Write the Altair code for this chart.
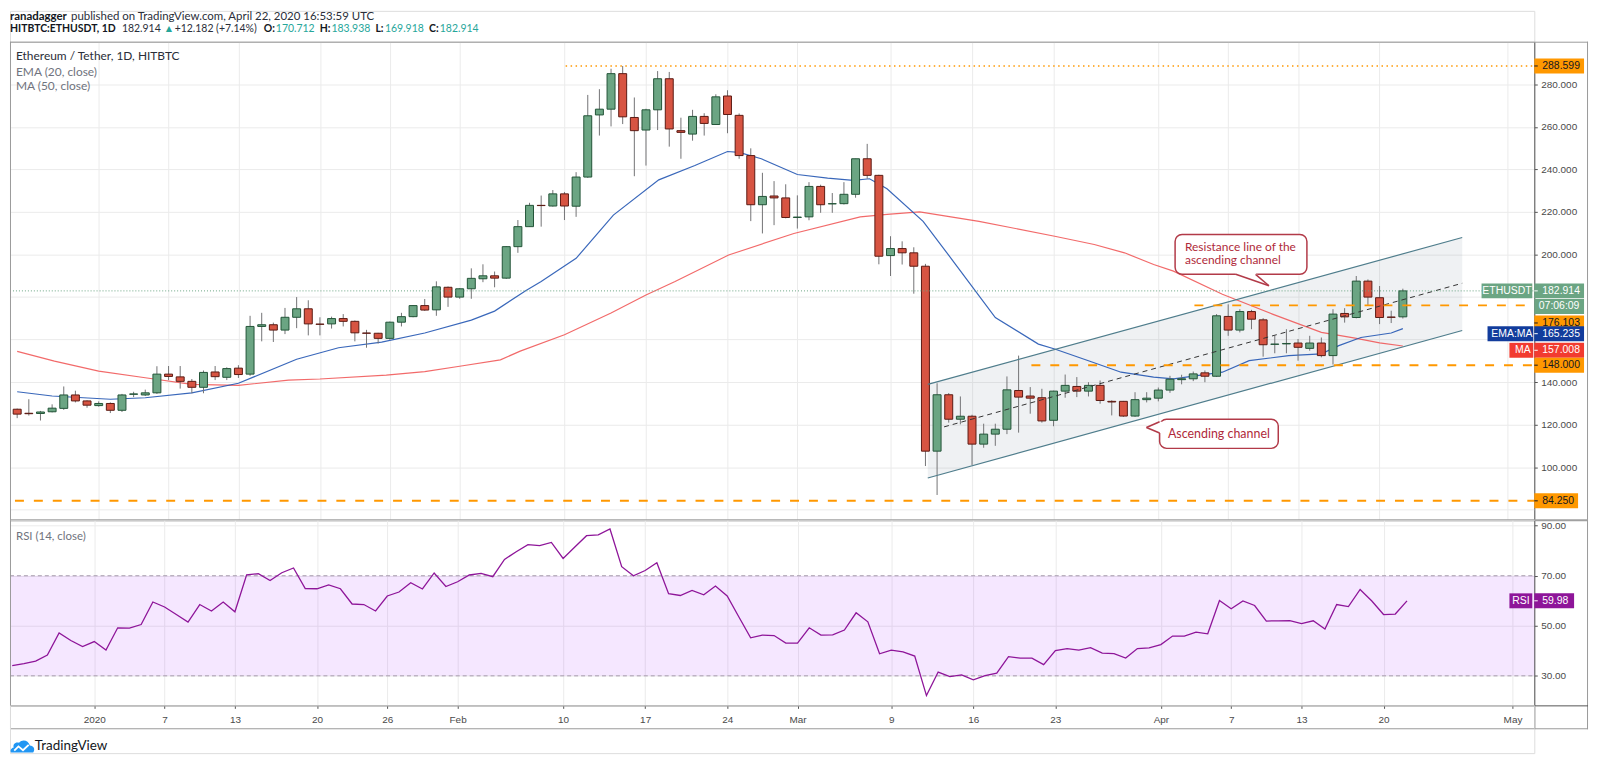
import altair as alt
import pandas as pd

# ---------------- data ----------------
dates = pd.date_range("2019-12-25", "2020-04-22", freq="D")
day = [(t - pd.Timestamp("2020-01-01")).days for t in dates]

opens = [127.3,125.4,125.3,126.1,127.7,134.0,131.2,129.0,130.0,126.8,
         134.3,134.0,135.0,143.8,142.5,140.4,137.6,144.8,142.3,146.6,
         143.8,166.2,167.0,164.5,170.5,174.5,167.3,167.4,169.9,168.6,
         163.1,163.0,160.6,168.2,170.8,176.0,174.0,184.6,180.0,183.9,
         188.6,190.0,188.9,203.7,213.1,223.1,222.8,228.5,222.7,236.4,
         265.6,268.3,285.0,264.4,258.5,268.0,282.6,258.2,256.6,264.9,
         261.1,274.5,265.4,246.5,223.4,227.5,226.6,217.4,217.7,232.0,
         223.8,223.9,228.3,245.0,237.2,199.5,202.8,200.8,194.5,107.6,
         134.1,122.6,124.0,110.9,115.6,117.9,136.1,133.5,132.7,122.1,
         135.8,138.0,135.8,138.5,131.0,131.0,124.1,131.8,132.5,136.3,
         141.2,141.6,144.4,142.8,170.9,164.5,173.2,169.3,157.8,158.0,
         158.4,155.9,158.4,152.5,172.3,170.4,187.5,179.7,170.6,170.712]
highs = [127.6,132.0,126.5,129.6,138.0,136.0,131.5,131.0,130.5,134.5,
         135.5,136.5,147.5,147.6,147.6,141.5,145.5,147.6,147.0,148.0,
         171.2,172.6,168.0,174.9,180.0,178.5,170.5,170.8,172.0,169.0,
         164.6,163.2,168.5,172.6,176.2,179.1,187.4,185.0,184.2,193.5,
         195.4,192.0,204.0,216.2,224.3,227.7,230.3,229.4,238.7,275.0,
         277.7,287.3,288.6,273.8,268.5,286.2,285.8,264.3,268.0,266.4,
         275.3,277.2,266.3,249.9,238.4,234.5,233.0,227.8,234.0,232.8,
         228.9,234.0,245.0,252.0,237.5,208.6,206.2,203.4,195.6,139.5,
         134.9,133.3,124.7,120.5,120.5,142.7,152.5,137.7,136.9,136.0,
         143.6,142.4,140.0,140.8,131.5,131.2,135.3,135.3,137.5,143.0,
         143.5,145.0,145.5,172.0,176.6,174.3,174.0,170.1,161.8,164.9,
         160.3,161.8,161.0,174.3,174.8,189.9,188.3,185.2,173.6,183.938]
lows = [123.1,124.3,122.0,125.8,127.0,130.5,128.0,128.5,125.5,126.0,
        133.0,133.5,134.5,141.0,137.0,134.8,134.8,141.0,141.0,142.0,
        143.0,159.2,158.9,162.6,165.4,162.0,162.0,165.2,166.2,159.2,
        156.2,158.2,160.0,166.2,170.5,173.5,171.2,175.4,179.2,179.2,
        187.0,184.6,188.5,200.8,213.0,213.1,222.5,216.2,217.7,236.0,
        255.9,260.2,261.3,236.8,241.8,258.5,250.7,245.0,253.5,255.9,
        261.0,257.0,245.0,215.7,209.9,213.8,217.0,212.2,216.1,219.6,
        219.6,223.5,226.7,235.6,195.4,189.9,195.3,181.6,100.6,87.0,
        121.0,120.2,101.1,109.2,110.1,115.6,116.3,125.2,121.0,119.3,
        132.7,133.0,133.3,129.9,124.4,123.7,123.7,130.5,131.0,135.0,
        139.0,140.5,140.0,142.5,161.8,163.4,164.9,152.0,153.6,153.6,
        150.1,154.8,151.7,148.3,168.0,170.0,175.9,167.3,167.8,169.918]
closes = [125.0,125.2,126.0,127.8,134.0,131.2,129.2,130.0,126.8,134.0,
          134.5,135.0,143.8,142.7,140.4,137.6,144.6,142.6,146.4,143.6,
          166.2,167.0,164.5,170.5,174.5,167.4,167.2,169.9,168.6,163.2,
          163.0,160.6,168.2,170.8,176.0,173.9,184.8,180.0,183.9,188.8,
          190.0,188.9,203.7,213.1,223.1,223.0,228.5,222.8,236.4,265.2,
          268.3,285.0,264.7,258.2,268.0,282.6,259.0,257.4,264.9,261.6,
          274.1,265.8,246.5,223.4,227.3,226.6,217.4,217.6,232.0,223.4,
          223.9,228.3,245.0,237.2,199.2,202.8,200.8,194.5,107.6,134.1,
          122.6,124.0,110.9,115.6,117.9,136.4,133.0,132.5,121.8,135.8,
          138.5,135.8,138.5,131.4,130.7,124.1,131.8,132.5,136.3,141.4,
          141.6,143.9,142.8,171.2,164.5,173.2,169.6,157.6,157.9,158.2,
          156.4,158.4,152.5,172.0,170.7,187.5,180.0,170.4,170.5,182.914]
rsi_vals = [34.1,34.9,35.9,38.3,47.1,44.1,41.7,43.7,40.3,49.2,
            49.1,50.5,59.5,57.5,54.5,51.5,58.5,55.9,59.5,55.6,
            70.4,70.8,68.1,71.2,73.1,64.9,64.8,66.3,64.8,58.7,
            58.5,55.9,61.9,63.5,67.2,64.7,71.1,65.7,67.6,70.3,
            70.9,69.6,76.5,79.6,82.4,82.0,83.3,76.9,81.5,86.0,
            86.3,88.7,73.6,70.0,72.1,75.2,62.8,62.1,64.1,62.4,
            65.9,61.9,53.5,45.2,46.3,46.1,43.1,43.1,49.2,46.3,
            46.4,48.3,55.2,51.6,38.8,40.3,39.6,37.9,22.1,31.5,
            29.7,30.4,28.4,30.1,31.1,37.7,37.1,37.1,34.5,40.1,
            40.9,40.3,41.3,39.1,38.9,37.1,40.9,41.2,42.5,45.9,
            45.9,47.5,46.8,60.1,56.8,59.9,58.1,51.9,52.0,52.1,
            50.9,52.0,48.7,58.5,57.7,64.5,59.9,54.5,54.7,59.98]

ema_days = [-7,-4,1,4,8,12,17,20.6,24.3,28,32,34,36.7,38,40,41,44.2,48.1,51.2,54,55,
            56.9,60,62.6,64.8,66.2,67.7,70.8,73.6,77,80.7,82.1,85,87.8,90.6,92.3,
            96.5,98.8,102.2,105,106.5,108.4,111,112]
ema_vals = [135.5,133.5,132.0,132.7,135.0,139.5,150.8,156.2,158.8,163.1,169.2,173.4,183.1,
            187.3,194.6,198.2,218.5,235.1,241.8,248.4,248.0,245.0,237.6,235.9,234.8,235.6,
            230.9,215.6,195.3,170.4,157.9,155.6,150.1,144.7,142.4,141.6,144.7,150.1,152.5,
            153.3,157.2,161.0,163.1,165.2]
ma_days = [-7,-3.8,0,4,8,12,16.3,19,24.7,28,31,34.5,36.2,40,44,47,49.5,54.1,59.7,65.4,
           67.7,70.5,75.6,82.1,85.5,88.1,90.6,92.3,96.5,100.8,105,107.9,110,112]
ma_vals = [154.5,149.9,145.2,142.1,139.0,138.5,141.0,141.5,143.3,145.0,147.5,150.5,154.6,
           162.3,172.5,181.0,187.3,199.8,209.9,217.7,218.9,220.0,215.6,208.6,204.7,200.8,
           195.3,192.2,181.3,172.0,163.4,160.7,158.5,157.0]

tick_days = [0, 6, 12, 19, 25, 31, 40, 47, 54, 60, 68, 75, 82, 91, 97, 103, 110, 121]
tick_labels = ["2020", "7", "13", "20", "26", "Feb", "10", "17", "24", "Mar",
               "9", "16", "23", "Apr", "7", "13", "20", "May"]
price_ticks = [100, 120, 140, 200, 220, 240, 260, 280]   # labels visible on the price scale
hidden_grid = [80, 160, 180]                              # grid lines whose labels are covered
rsi_ticks = [30, 50, 70, 90]

# drawings
chan_days = [71.2, 117.1]
chan_low = [95.0, 164.3]
chan_high = [138.95, 208.0]
mid_days = [72.6, 117.1]
mid_vals = [119.0, 186.5]
level_vals = [288.599, 176.103, 148.0, 84.25]
level_start = [40.1, 94.1, 80.1, -7.19]
level_dash = ["dot", "dash", "dash", "dash"]
last_close = 182.914

assert len(opens) == len(highs) == len(lows) == len(closes) == len(rsi_vals) == len(day) == 120

# ---------------- styling ----------------
W, PH, RH = 1532, 481, 186
XD = [-7.19, 122.86]
GREEN, GREEN_B = "#6ba583", "#225437"
RED, RED_B = "#d75442", "#5b1a13"
WICK = "#737375"
ORANGE = "#ff9800"
NAVY = "#123c9c"
MARED = "#f23b30"
PURPLE = "#8e1599"
GRID = "#ebebeb"
FRAME = "#9a9a9a"
AXC = "#555555"
LBL = "#4a4a4a"
TXT = "#131722"
CALL = "#b23a48"
NUMFONT = "Liberation Sans"

xs = alt.Scale(domain=XD, nice=False, zero=False)
ys = alt.Scale(domain=[75.1, 300], nice=False, zero=False)
rs = alt.Scale(domain=[18.2, 92.15], nice=False, zero=False)

px_axis = alt.Axis(values=tick_days, grid=True, gridColor=GRID, labels=False, ticks=False,
                   domain=False, title=None)
py_axis = alt.Axis(orient="right", values=price_ticks, format=".3f", grid=True, gridColor=GRID,
                   title=None, labelFont=NUMFONT, labelFontSize=10, labelColor=LBL,
                   tickColor=AXC, tickSize=3, labelPadding=3.5, domainColor=AXC,
                   labelOverlap=False)
lab_expr = " : ".join(f"datum.value == {d} ? '{l}'" for d, l in zip(tick_days, tick_labels)) + " : ''"
rx_axis = alt.Axis(values=tick_days, labelExpr=lab_expr, grid=True, gridColor=GRID, title=None,
                   labelFont=NUMFONT, labelFontSize=10, labelColor=LBL, tickColor=AXC,
                   tickSize=3, labelPadding=6, domainColor=AXC, labelFlush=False,
                   labelOverlap=False)
ry_axis = alt.Axis(orient="right", values=rsi_ticks, format=".2f", grid=True, gridColor=GRID,
                   title=None, labelFont=NUMFONT, labelFontSize=10, labelColor=LBL,
                   tickColor=AXC, tickSize=3, labelPadding=3.5, domainColor=AXC,
                   labelOverlap=False)


def PX(f):
    return alt.X(f"{f}:Q", scale=xs, axis=px_axis)


def PY(f):
    return alt.Y(f"{f}:Q", scale=ys, axis=py_axis)


def RX(f):
    return alt.X(f"{f}:Q", scale=xs, axis=rx_axis)


def RY(f):
    return alt.Y(f"{f}:Q", scale=rs, axis=ry_axis)


one = pd.DataFrame({"k": [0]})

# ---------------- price panel ----------------
candles = pd.DataFrame({"d": day, "o": opens, "h": highs, "l": lows, "c": closes})
candles["dir"] = ["up" if c >= o else "down" for o, c in zip(opens, closes)]

layers = []
# grid lines whose labels are hidden behind the price boxes
layers.append(alt.Chart(pd.DataFrame({"p": hidden_grid})).mark_rule(color=GRID, strokeWidth=1)
              .encode(x=alt.value(0), x2=alt.value(W), y=PY("p")))
# channel fill
layers.append(alt.Chart(pd.DataFrame({"d": chan_days, "lo": chan_low, "hi": chan_high}))
              .mark_area(color="#7b8ea0", opacity=0.12)
              .encode(x=PX("d"), y=PY("lo"), y2=alt.Y2("hi")))
# EMA / MA
layers.append(alt.Chart(pd.DataFrame({"d": ma_days, "v": ma_vals}))
              .mark_line(color="#f05050", strokeWidth=1.2, opacity=0.85)
              .encode(x=PX("d"), y=PY("v")))
layers.append(alt.Chart(pd.DataFrame({"d": ema_days, "v": ema_vals}))
              .mark_line(color="#2457b3", strokeWidth=1.2, opacity=0.9)
              .encode(x=PX("d"), y=PY("v")))
# candles
layers.append(alt.Chart(candles).mark_rule(color=WICK, strokeWidth=1)
              .encode(x=PX("d"), y=PY("l"), y2=alt.Y2("h")))
layers.append(alt.Chart(candles).mark_bar(width=8, strokeWidth=1)
              .encode(x=PX("d"), y=PY("o"), y2=alt.Y2("c"),
                      fill=alt.Fill("dir:N", scale=alt.Scale(domain=["up", "down"], range=[GREEN, RED]), legend=None),
                      stroke=alt.Stroke("dir:N", scale=alt.Scale(domain=["up", "down"], range=[GREEN_B, RED_B]), legend=None)))
# channel lines
cl = pd.DataFrame({"d": chan_days + chan_days, "p": chan_low + chan_high, "g": ["lo", "lo", "hi", "hi"]})
layers.append(alt.Chart(cl).mark_line(color="#4f7d8c", strokeWidth=1.2)
              .encode(x=PX("d"), y=PY("p"), detail="g:N"))
layers.append(alt.Chart(pd.DataFrame({"d": mid_days, "p": mid_vals}))
              .mark_line(color="#333333", strokeWidth=1, strokeDash=[5, 4])
              .encode(x=PX("d"), y=PY("p")))
# horizontal levels
lv = pd.DataFrame({"p": level_vals, "s": level_start, "t": level_dash})
layers.append(alt.Chart(lv[lv.t == "dash"]).mark_rule(color=ORANGE, strokeWidth=2, strokeDash=[9, 10])
              .encode(x=PX("s"), x2=alt.value(W), y=PY("p")))
layers.append(alt.Chart(lv[lv.t == "dot"]).mark_rule(color=ORANGE, strokeWidth=1.6, strokeDash=[1.5, 3.5])
              .encode(x=PX("s"), x2=alt.value(W), y=PY("p")))
layers.append(alt.Chart(pd.DataFrame({"p": [last_close]})).mark_rule(color=GREEN, strokeWidth=1, strokeDash=[1, 2])
              .encode(x=alt.value(0), x2=alt.value(W), y=PY("p")))

# callout 1: resistance line
c1_box = pd.DataFrame({"x1": [92.44], "x2": [103.76], "y1": [190.7], "y2": [209.4]})
layers.append(alt.Chart(c1_box).mark_rect(fill="white", stroke=CALL, strokeWidth=1.5, cornerRadius=7)
              .encode(x=PX("x1"), x2=alt.X2("x2"), y=PY("y1"), y2=alt.Y2("y2")))
c1_ptr = pd.DataFrame({"d": [97.65, 99.35, 100.5], "lo": [190.7, 187.48, 185.3], "hi": [191.3, 191.3, 185.3]})
layers.append(alt.Chart(c1_ptr).mark_area(color="white", opacity=1)
              .encode(x=PX("d"), y=PY("lo"), y2=alt.Y2("hi")))
c1_edge = pd.DataFrame({"d": [97.65, 100.5, 99.35, 100.5], "p": [190.7, 185.3, 190.7, 185.3], "g": [1, 1, 2, 2]})
layers.append(alt.Chart(c1_edge).mark_line(color=CALL, strokeWidth=1.5)
              .encode(x=PX("d"), y=PY("p"), detail="g:N"))
c1_txt = pd.DataFrame({"d": [93.29, 93.29], "p": [203.4, 197.6],
                       "t": ["Resistance line of the", "ascending channel"]})
layers.append(alt.Chart(c1_txt).mark_text(align="left", baseline="middle", color="#b02a3a",
                                          font="Lato", fontSize=12)
              .encode(x=PX("d"), y=PY("p"), text="t:N"))
# callout 2: ascending channel
c2_box = pd.DataFrame({"x1": [91.11], "x2": [101.3], "y1": [108.9], "y2": [122.64]})
layers.append(alt.Chart(c2_box).mark_rect(fill="white", stroke=CALL, strokeWidth=1.5, cornerRadius=7)
              .encode(x=PX("x1"), x2=alt.X2("x2"), y=PY("y1"), y2=alt.Y2("y2")))
c2_ptr = pd.DataFrame({"d": [89.98, 91.11, 91.35], "lo": [118.7, 116.1, 116.1], "hi": [118.7, 121.4, 121.4]})
layers.append(alt.Chart(c2_ptr).mark_area(color="white", opacity=1)
              .encode(x=PX("d"), y=PY("lo"), y2=alt.Y2("hi")))
c2_edge = pd.DataFrame({"d": [91.11, 89.98, 91.11, 89.98], "p": [121.4, 118.7, 116.1, 118.7], "g": [1, 1, 2, 2]})
layers.append(alt.Chart(c2_edge).mark_line(color=CALL, strokeWidth=1.5)
              .encode(x=PX("d"), y=PY("p"), detail="g:N"))
layers.append(alt.Chart(pd.DataFrame({"d": [96.2], "p": [115.8], "t": ["Ascending channel"]}))
              .mark_text(align="center", baseline="middle", color="#b02a3a", font="Lato", fontSize=12.5)
              .encode(x=PX("d"), y=PY("p"), text="t:N"))

# price-scale label boxes: (text, price, yOffset, x1, x2, bg, fg, text x, align, tick)
boxes = [
    ("288.599", 288.599, 0, W, W + 50, ORANGE, TXT, W + 8, "left", True),
    ("182.914", last_close, 0, W, W + 50, GREEN, "white", W + 8, "left", True),
    ("07:06:09", last_close, 15.7, W, W + 50, GREEN, "white", W + 4.5, "left", False),
    ("176.103", 176.103, 17.7, W, W + 50, ORANGE, TXT, W + 8, "left", True),
    ("165.235", 165.235, 5.2, W, W + 50, NAVY, "white", W + 8, "left", True),
    ("157.008", 157.008, 4.3, W, W + 50, MARED, "white", W + 8, "left", True),
    ("148.000", 148.0, 0, W, W + 50, ORANGE, TXT, W + 8, "left", True),
    ("84.250", 84.25, 0, W, W + 44, ORANGE, TXT, W + 8, "left", True),
    ("ETHUSDT", last_close, 0, W - 53, W - 2, GREEN, "white", W - 27.5, "center", False),
    ("EMA:MA", 165.235, 5.2, W - 47, W - 1, NAVY, "white", W - 22.5, "center", False),
    ("MA", 157.008, 4.3, W - 25, W - 1, MARED, "white", W - 11.5, "center", False),
]
for t, p, off, x1, x2, bg, fg, tx, al, tk in boxes:
    dfb = pd.DataFrame({"p": [p], "t": [t]})
    layers.append(alt.Chart(dfb).mark_rule(color=bg, strokeWidth=15, yOffset=off)
                  .encode(x=alt.value(x1), x2=alt.value(x2), y=PY("p")))
    if tk:
        layers.append(alt.Chart(dfb).mark_rule(color=fg, strokeWidth=1, yOffset=off)
                      .encode(x=alt.value(W), x2=alt.value(W + 3.5), y=PY("p")))
    layers.append(alt.Chart(dfb).mark_text(align=al, baseline="middle", color=fg, font=NUMFONT,
                                           fontSize=10.5, yOffset=off)
                  .encode(x=alt.value(tx), y=PY("p"), text="t:N"))

# pane legend
leg = pd.DataFrame({"t": ["Ethereum / Tether, 1D, HITBTC", "EMA (20, close)", "MA (50, close)"],
                    "x": [6, 6, 6], "y": [14, 30, 45], "c": ["#2a2e39", "#6f737d", "#6f737d"]})
layers.append(alt.Chart(leg).mark_text(align="left", baseline="middle", font="Lato", fontSize=12)
              .encode(x=alt.X("x:Q", scale=None, axis=None), y=alt.Y("y:Q", scale=None, axis=None),
                      text="t:N", color=alt.Color("c:N", scale=None)))
# frame of price pane
layers.append(alt.Chart(one).mark_rule(color=FRAME, strokeWidth=1)
              .encode(x=alt.value(0), x2=alt.value(W + 54), y=alt.value(0.5)))
layers.append(alt.Chart(one).mark_rule(color=FRAME, strokeWidth=1)
              .encode(x=alt.value(0.5), y=alt.value(0), y2=alt.value(PH)))
layers.append(alt.Chart(one).mark_rule(color=FRAME, strokeWidth=1)
              .encode(x=alt.value(W + 53.5), y=alt.value(0), y2=alt.value(PH)))
layers.append(alt.Chart(one).mark_rule(color="#a0a0a0", strokeWidth=2)
              .encode(x=alt.value(0), x2=alt.value(W + 54), y=alt.value(PH)))

price = alt.layer(*layers).properties(width=W, height=PH)

# ---------------- RSI panel ----------------
rl = []
rl.append(alt.Chart(pd.DataFrame({"lo": [30], "hi": [70]})).mark_rect(color="#9915ff", opacity=0.1)
          .encode(x=alt.value(0), x2=alt.value(W), y=RY("lo"), y2=alt.Y2("hi")))
rl.append(alt.Chart(pd.DataFrame({"v": [30, 70]})).mark_rule(color="#a59aab", strokeWidth=1, strokeDash=[4, 3])
          .encode(x=alt.value(0), x2=alt.value(W), y=RY("v")))
rl.append(alt.Chart(pd.DataFrame({"d": day, "r": rsi_vals})).mark_line(color=PURPLE, strokeWidth=1.3)
          .encode(x=RX("d"), y=RY("r")))
rdf = pd.DataFrame({"p": [rsi_vals[-1]], "t": [f"{rsi_vals[-1]:.2f}"], "n": ["RSI"]})
rl.append(alt.Chart(rdf).mark_rule(color=PURPLE, strokeWidth=15)
          .encode(x=alt.value(W), x2=alt.value(W + 40), y=RY("p")))
rl.append(alt.Chart(rdf).mark_rule(color="white", strokeWidth=1)
          .encode(x=alt.value(W), x2=alt.value(W + 3.5), y=RY("p")))
rl.append(alt.Chart(rdf).mark_text(align="left", baseline="middle", color="white", font=NUMFONT, fontSize=10.5)
          .encode(x=alt.value(W + 8), y=RY("p"), text="t:N"))
rl.append(alt.Chart(rdf).mark_rule(color=PURPLE, strokeWidth=15)
          .encode(x=alt.value(W - 25), x2=alt.value(W - 2), y=RY("p")))
rl.append(alt.Chart(rdf).mark_text(align="center", baseline="middle", color="white", font=NUMFONT, fontSize=10.5)
          .encode(x=alt.value(W - 13.5), y=RY("p"), text="n:N"))
rl.append(alt.Chart(pd.DataFrame({"t": ["RSI (14, close)"]}))
          .mark_text(align="left", baseline="middle", font="Lato", fontSize=11.5, color="#6f737d")
          .encode(x=alt.value(6), y=alt.value(16.5), text="t:N"))
# frame
for enc in [dict(x=alt.value(0.5), y=alt.value(0), y2=alt.value(RH + 24)),
            dict(x=alt.value(W + 53.5), y=alt.value(0), y2=alt.value(RH + 24)),
            dict(x=alt.value(0), x2=alt.value(W + 54), y=alt.value(RH + 23.5))]:
    rl.append(alt.Chart(one).mark_rule(color=FRAME, strokeWidth=1).encode(**enc))
rl.append(alt.Chart(one).mark_rule(color=AXC, strokeWidth=1)
          .encode(x=alt.value(W), x2=alt.value(W + 54), y=alt.value(RH + 0.5)))
rl.append(alt.Chart(one).mark_rule(color=AXC, strokeWidth=1)
          .encode(x=alt.value(W + 0.5), y=alt.value(RH), y2=alt.value(RH + 24)))

rsi = alt.layer(*rl).properties(width=W, height=RH)

# ---------------- header & footer ----------------
hdr = pd.DataFrame({
    "t": ["ranadagger", "published on TradingView.com, April 22, 2020 16:53:59 UTC",
          "HITBTC:ETHUSDT, 1D", "182.914", "\u25b2", "+12.182 (+7.14%)",
          "O:", "170.712", "H:", "183.938", "L:", "169.918", "C:", "182.914"],
    "x": [0, 61.3, 0, 112.5, 154.5, 165.5, 255, 267.2, 311.4, 323.1, 367.3, 376.9, 421.1, 432],
    "y": [0, 0, 13, 13, 13, 13, 13, 13, 13, 13, 13, 13, 13, 13],
    "c": [TXT, "#2a2e39", TXT, "#2a2e39", "#26a69a", "#2a2e39", TXT, "#26a69a", TXT, "#26a69a",
          TXT, "#26a69a", TXT, "#26a69a"],
    "b": [1, 0, 2, 3, 3, 3, 2, 3, 2, 3, 2, 3, 2, 3],
})
hx = alt.X("x:Q", scale=None, axis=None)
hy = alt.Y("y:Q", scale=None, axis=None)
header = alt.layer(
    alt.Chart(hdr[hdr.b == 1]).mark_text(align="left", baseline="top", font="Lato", fontSize=11.5,
                                         fontWeight="bold")
    .encode(x=hx, y=hy, text="t:N", color=alt.Color("c:N", scale=None)),
    alt.Chart(hdr[hdr.b == 0]).mark_text(align="left", baseline="top", font="Lato", fontSize=11.5)
    .encode(x=hx, y=hy, text="t:N", color=alt.Color("c:N", scale=None)),
    alt.Chart(hdr[hdr.b == 2]).mark_text(align="left", baseline="top", font="Lato", fontSize=10.5,
                                         fontWeight="bold")
    .encode(x=hx, y=hy, text="t:N", color=alt.Color("c:N", scale=None)),
    alt.Chart(hdr[hdr.b == 3]).mark_text(align="left", baseline="top", font="Lato", fontSize=10.5)
    .encode(x=hx, y=hy, text="t:N", color=alt.Color("c:N", scale=None)),
).properties(width=W, height=31)

cloud = ("M -1 0.55 L 0.95 0.55 C 1.15 0.3 1.0 -0.05 0.65 -0.05 C 0.55 -0.5 0.0 -0.65 -0.3 -0.3 "
         "C -0.6 -0.42 -0.88 -0.15 -0.76 0.12 C -1.05 0.18 -1.1 0.45 -1 0.55 Z")
zig = "M -0.72 0.4 L -0.35 0.02 L 0.05 0.36 L 0.55 -0.12"
footer = alt.layer(
    alt.Chart(one).mark_point(shape=cloud, size=520, filled=True, color="#2196f3", opacity=1)
    .encode(x=alt.value(12.5), y=alt.value(41)),
    alt.Chart(one).mark_point(shape=zig, size=520, filled=False, color="white", strokeWidth=1.8, opacity=1)
    .encode(x=alt.value(12.5), y=alt.value(41)),
    alt.Chart(pd.DataFrame({"t": ["TradingView"]})).mark_text(align="left", baseline="middle", font="Lato",
                                                             fontSize=13.5, color=TXT)
    .encode(x=alt.value(25), y=alt.value(41), text="t:N"),
).properties(width=W, height=48)

chart = (alt.vconcat(header, price, rsi, footer, spacing=0, bounds="flush")
         .properties(padding=0)
         .configure_view(stroke=None)
         .configure(font="Lato"))

chart.save("out.html", embed_options={"renderer": "svg", "actions": False})
